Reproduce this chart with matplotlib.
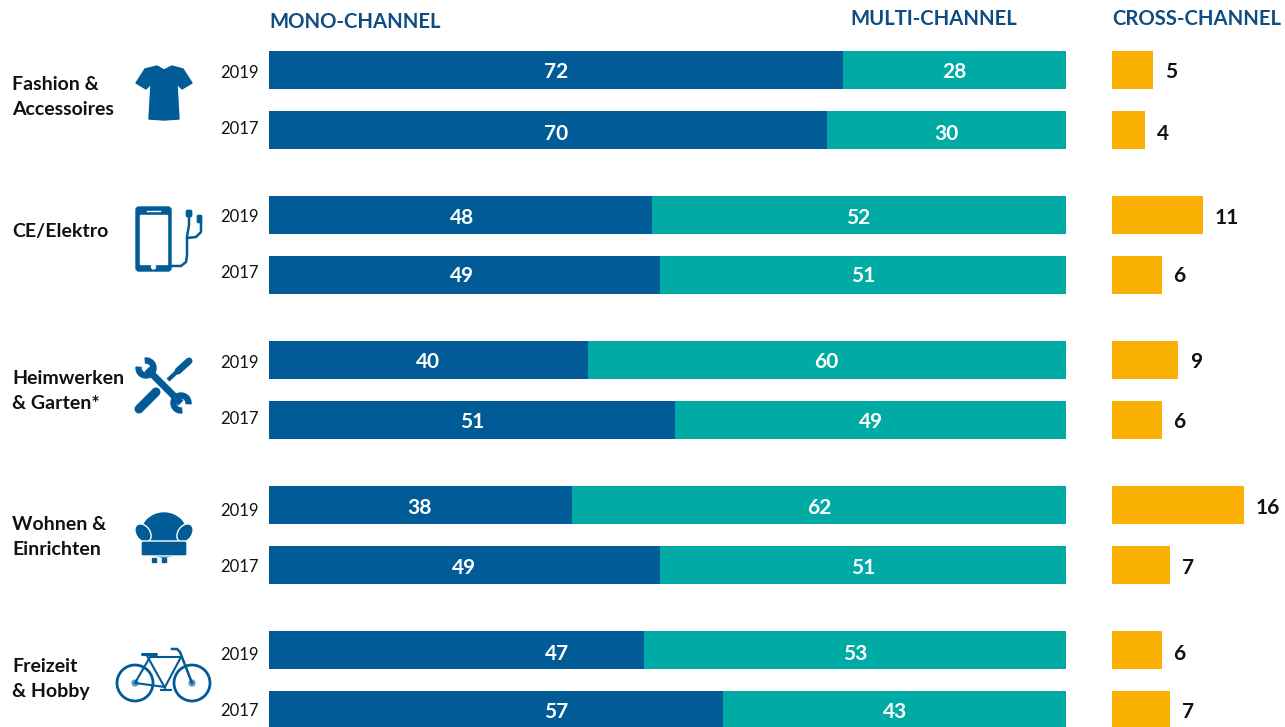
import matplotlib
matplotlib.use('Agg')
import matplotlib.pyplot as plt
from matplotlib.patches import Polygon, FancyBboxPatch, Circle, Wedge, Ellipse

plt.rcParams['font.family'] = ['Lato', 'DejaVu Sans']

W, H = 1285, 727

# Data, top to bottom (2019 then 2017 for each category)
categories = ['Fashion &\nAccessoires', 'CE/Elektro', 'Heimwerken\n& Garten*', 'Wohnen &\nEinrichten', 'Freizeit\n& Hobby']
years = ['2019', '2017'] * 5
mono = [72, 70, 48, 49, 40, 51, 38, 49, 47, 57]
multi = [28, 30, 52, 51, 60, 49, 62, 51, 53, 43]
cross_labels = [5, 4, 11, 6, 9, 6, 16, 7, 6, 7]
# bar lengths as drawn in the original (the "9" bar is drawn shorter than its label)
cross_lengths = [5, 4, 11, 6, 8, 6, 16, 7, 6, 7]

BLUE = '#005B96'
TEAL = '#00ABA5'
AMBER = '#FBB103'
HEAD = '#0F4C81'
TEXT = '#111111'

fig = plt.figure(figsize=(W / 100, H / 100), dpi=100)


def pixel_axes(x0, x1):
    ax = fig.add_axes([x0 / W, 0, (x1 - x0) / W, 1])
    ax.set_ylim(H, 0)
    ax.axis('off')
    return ax


# bars
ax_main = pixel_axes(269, 1066)
ax_main.set_xlim(0, 100)
ax_cross = pixel_axes(1112, 1244)
ax_cross.set_xlim(0, 16)

bar_y = [70, 130, 215, 275, 360, 420, 505, 565, 650, 710]
ax_main.barh(bar_y, mono, height=38, color=BLUE)
ax_main.barh(bar_y, multi, left=mono, height=38, color=TEAL)
ax_cross.barh(bar_y, cross_lengths, height=38, color=AMBER)

# overlay in pixel coordinates for all texts and icons
ov = fig.add_axes([0, 0, 1, 1])
ov.set_xlim(0, W)
ov.set_ylim(H, 0)
ov.axis('off')
ov.patch.set_alpha(0)

# headers
head = dict(fontsize=14.6, fontweight='bold', color=HEAD, va='center', ha='left')
ov.text(269, 22, 'MONO-CHANNEL', **head)
ov.text(850, 19, 'MULTI-CHANNEL', **head)
ov.text(1112, 19, 'CROSS-CHANNEL', **head)

# category labels
cat_y = [97, 232, 391, 537, 679]
for name, y in zip(categories, cat_y):
    ov.text(12.5, y, name, fontsize=14, fontweight='bold', color=TEXT, va='center', ha='left', linespacing=1.55)

# years
year_y = [71, 127, 216, 272, 362, 418, 510, 566, 653, 709]
for yr, y in zip(years, year_y):
    ov.text(259, y + 1.5, yr, fontsize=12, color=TEXT, va='center', ha='right')

# value labels sit where the original put them, not always mid-bar
mono_x = [556, 556, 462, 462, 428, 472, 420, 464, 557, 556]
multi_x = [954, 946, 858, 863, 826, 871, 819, 863, 855, 895]
val_y = [70, 132, 216, 275, 361, 421, 507, 566, 652, 711]
vals = dict(color='white', fontsize=15, fontweight='bold', ha='center', va='center')
for i, y in enumerate(val_y):
    ov.text(mono_x[i], y + 1.5, str(mono[i]), **vals)
    ov.text(multi_x[i], y + 1.5, str(multi[i]), **vals)
    ax_cross.text(cross_lengths[i] + 1.45, y + 1.5, str(cross_labels[i]), color=TEXT, fontsize=15, fontweight='bold', ha='left', va='center', clip_on=False)

# ---- icons ----
# shirt
ov.add_patch(Polygon([(157, 66), (164, 70), (172, 66), (183, 69), (192, 83), (182, 89), (177, 84),
                      (179, 119), (164, 120), (149, 119), (151, 84), (146, 89), (136, 83), (145, 69)],
                     closed=True, color=BLUE, joinstyle='round', lw=1))

# phone with earphones
ov.add_patch(FancyBboxPatch((136, 207), 35, 64, boxstyle='round,pad=0,rounding_size=3', fc=BLUE, ec=BLUE, lw=1))
ov.add_patch(plt.Rectangle((140, 215), 27, 49, color='white'))
ov.add_patch(Circle((153.5, 267), 2, color='white'))
ov.plot([147, 160], [210.5, 210.5], color='white', lw=1)
ov.plot([170, 181, 186, 187, 187, 196, 201, 201], [266, 266, 262, 255, 238, 237, 232, 222], color=BLUE, lw=1.8, solid_joinstyle='round')
ov.plot([189, 189, 187], [212, 225, 237], color=BLUE, lw=1.8)
ov.add_patch(FancyBboxPatch((186, 210), 6, 7, boxstyle='round,pad=0,rounding_size=1.5', fc=BLUE, ec=BLUE, lw=0.5))
ov.add_patch(FancyBboxPatch((197, 215), 5, 8, boxstyle='round,pad=0,rounding_size=1.5', fc=BLUE, ec=BLUE, lw=0.5))

# wrench and screwdriver
ov.plot([168, 180], [380, 369], color=BLUE, lw=3, solid_capstyle='butt')
ov.plot([178, 189], [371, 361], color=BLUE, lw=5, solid_capstyle='round')
ov.plot([139, 156], [409, 392], color=BLUE, lw=6.5, solid_capstyle='round')
ov.plot([147, 181], [369, 403], color=BLUE, lw=5, solid_capstyle='butt')
ov.add_patch(Wedge((146, 368), 10, 265, 545, width=5, color=BLUE))
ov.add_patch(Wedge((181, 403), 10, 85, 365, width=5, color=BLUE))

# armchair
ov.add_patch(Ellipse((164, 535), 46, 44, color=BLUE))
ov.add_patch(Ellipse((143, 533), 14, 20, angle=-35, fc=BLUE, ec='white', lw=1))
ov.add_patch(Ellipse((185, 533), 14, 20, angle=35, fc=BLUE, ec='white', lw=1))
ov.add_patch(FancyBboxPatch((141, 541), 46, 15, boxstyle='round,pad=0,rounding_size=2', fc=BLUE, ec='white', lw=1))
ov.add_patch(plt.Rectangle((152, 558), 4, 4, color=BLUE))
ov.add_patch(plt.Rectangle((162, 558), 4, 4, color=BLUE))

# bicycle
for cx in (135, 192):
    ov.add_patch(Circle((cx, 683), 18, fill=False, ec=BLUE, lw=2))
    ov.add_patch(Circle((cx, 683), 3, color=BLUE, alpha=0.5))
ov.plot([135, 150, 181, 165, 135], [683, 657, 657, 687, 683], color=BLUE, lw=1.5, solid_joinstyle='round')
ov.plot([146, 165], [654, 688], color=BLUE, lw=1.5)
ov.plot([192, 180, 177, 172], [683, 652, 649, 649], color=BLUE, lw=1.8)
ov.plot([142, 156], [654, 654], color=BLUE, lw=2.2, solid_capstyle='round')
ov.plot([161, 171], [690, 690], color=BLUE, lw=1.5)

fig.savefig('out.png', dpi=100)
